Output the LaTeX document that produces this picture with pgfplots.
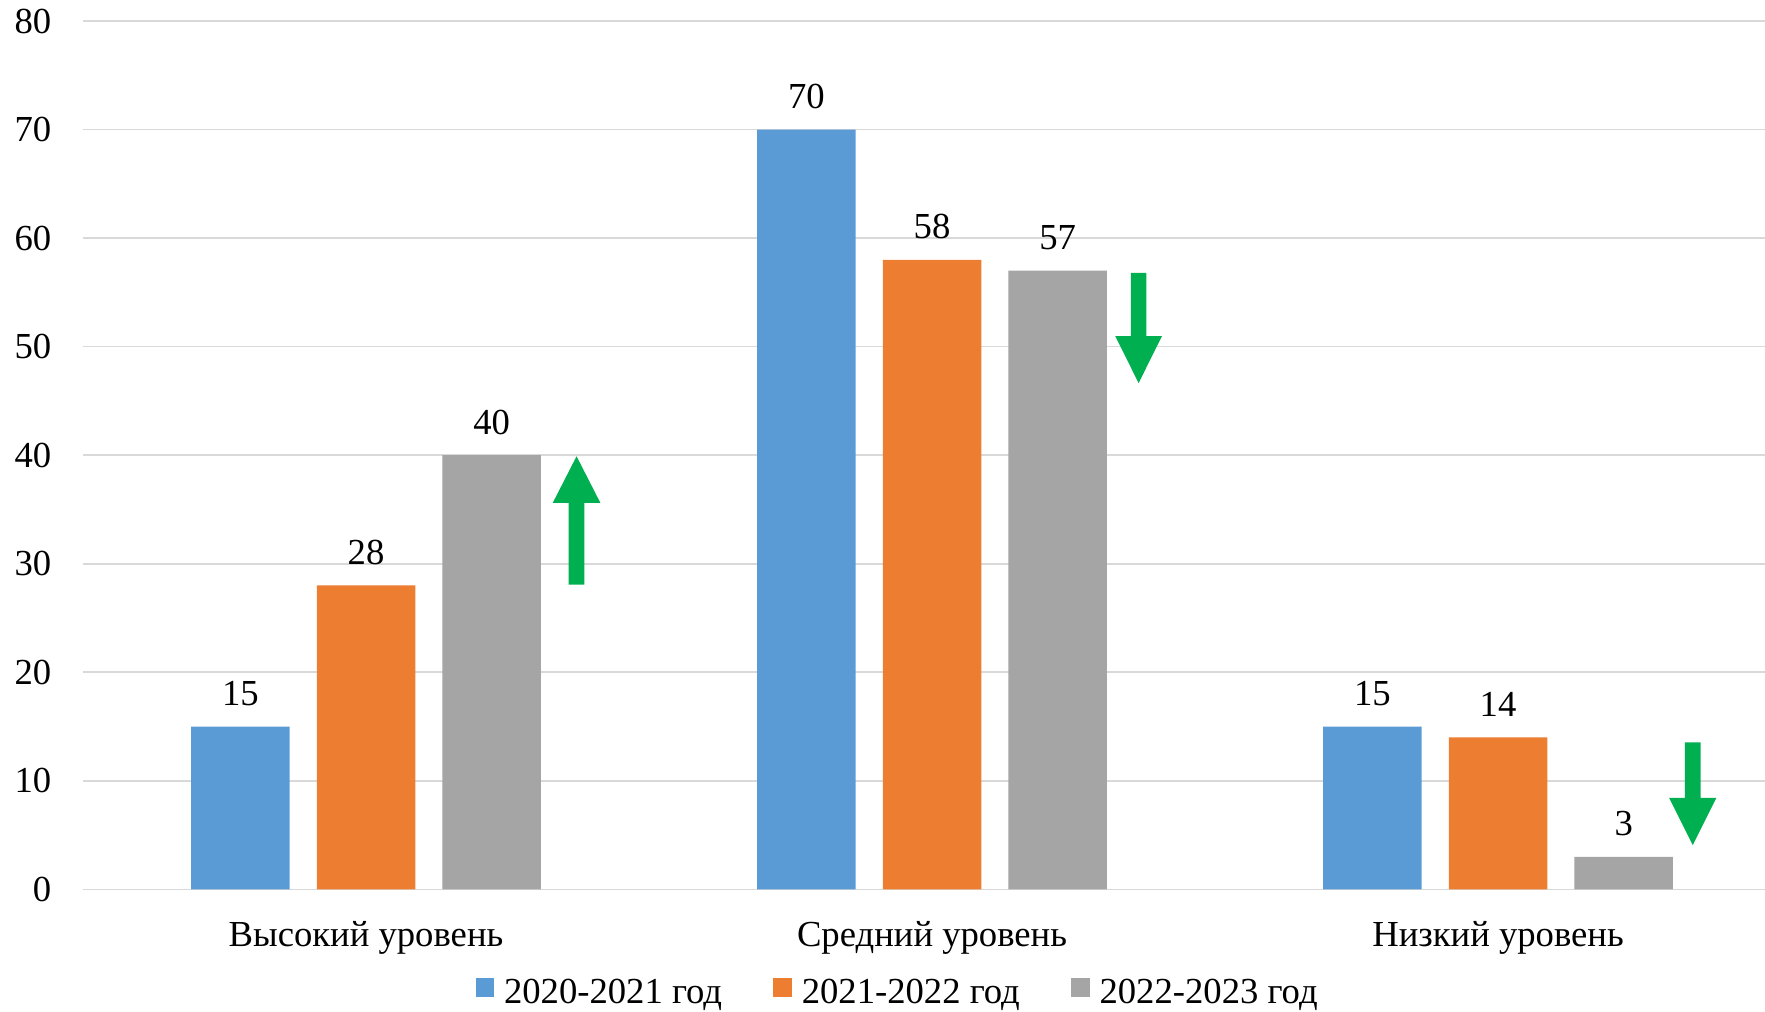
\documentclass[border=0pt]{standalone}
\usepackage{fontspec}
\setmainfont{Liberation Serif}
\usepackage{pgfplots}
\pgfplotsset{compat=1.18}
\definecolor{cblue}{HTML}{5B9BD5}
\definecolor{corange}{HTML}{ED7D31}
\definecolor{cgray}{HTML}{A5A5A5}
\definecolor{cgreen}{HTML}{00B050}
\definecolor{cgrid}{HTML}{D9D9D9}
\newcommand{\ff}{\fontsize{11pt}{13pt}\selectfont}
\begin{document}
\begin{tikzpicture}
\begin{axis}[
  scale only axis,
  width=504.6pt, height=260.5pt,
  xmin=-0.5, xmax=2.4717,
  ymin=0, ymax=80,
  ytick={0,10,...,80},
  xtick={0,1,2},
  xticklabels={Высокий уровень, Средний уровень, Низкий уровень},
  /pgf/number format/assume math mode=true,
  axis line style={draw=none},
  tick style={draw=none},
  ymajorgrids,
  grid style={cgrid, line width=0.5pt},
  ybar=8.15pt,
  bar width=29.55pt,
  ticklabel style={font=\ff},
  yticklabel style={xshift=-6pt},
  xticklabel style={anchor=base, yshift=-13pt},
  nodes near coords,
  nodes near coords style={font=\ff, yshift=2.7pt},
  legend columns=3,
  legend style={draw=none, fill=none, font=\ff, inner sep=0pt,
    nodes={inner sep=0pt},
    at={(rel axis cs:0,0)}, anchor=west, xshift=117.6pt, yshift=-31.3pt,
    /tikz/every odd column/.append style={column sep=3pt},
    /tikz/every even column/.append style={column sep=15.4pt}},
  legend image code/.code={\fill[#1] (0pt,-0.75pt) rectangle (5.5pt,4.75pt);},
]
\addplot[fill=cblue, draw=none] coordinates {(0,15) (1,70) (2,15)};
\addplot[fill=corange, draw=none] coordinates {(0,28) (1,58) (2,14)};
\addplot[fill=cgray, draw=none] coordinates {(0,40) (1,57) (2,3)};
\legend{2020-2021 год, 2021-2022 год, 2022-2023 год}
% arrows
\fill[cgreen] ([xshift=-2.35pt]axis cs:0.372,28.08) -- ([xshift=2.35pt]axis cs:0.372,28.08)
  -- ([xshift=2.35pt]axis cs:0.372,35.6) -- ([xshift=7.15pt]axis cs:0.372,35.6)
  -- (axis cs:0.372,39.9) -- ([xshift=-7.15pt]axis cs:0.372,35.6)
  -- ([xshift=-2.35pt]axis cs:0.372,35.6) -- cycle;
\fill[cgreen] ([xshift=-2.3pt]axis cs:1.365,56.8) -- ([xshift=2.3pt]axis cs:1.365,56.8)
  -- ([xshift=2.3pt]axis cs:1.365,50.97) -- ([xshift=7pt]axis cs:1.365,50.97)
  -- (axis cs:1.365,46.64) -- ([xshift=-7pt]axis cs:1.365,50.97)
  -- ([xshift=-2.3pt]axis cs:1.365,50.97) -- cycle;
\fill[cgreen] ([xshift=-2.35pt]axis cs:2.344,13.53) -- ([xshift=2.35pt]axis cs:2.344,13.53)
  -- ([xshift=2.35pt]axis cs:2.344,8.43) -- ([xshift=7.1pt]axis cs:2.344,8.43)
  -- (axis cs:2.344,4.08) -- ([xshift=-7.1pt]axis cs:2.344,8.43)
  -- ([xshift=-2.35pt]axis cs:2.344,8.43) -- cycle;
\end{axis}
\pgfresetboundingbox
\path[use as bounding box] (-24.9pt,-36.5pt) rectangle (504.6pt,266.8pt);
\end{tikzpicture}
\end{document}
